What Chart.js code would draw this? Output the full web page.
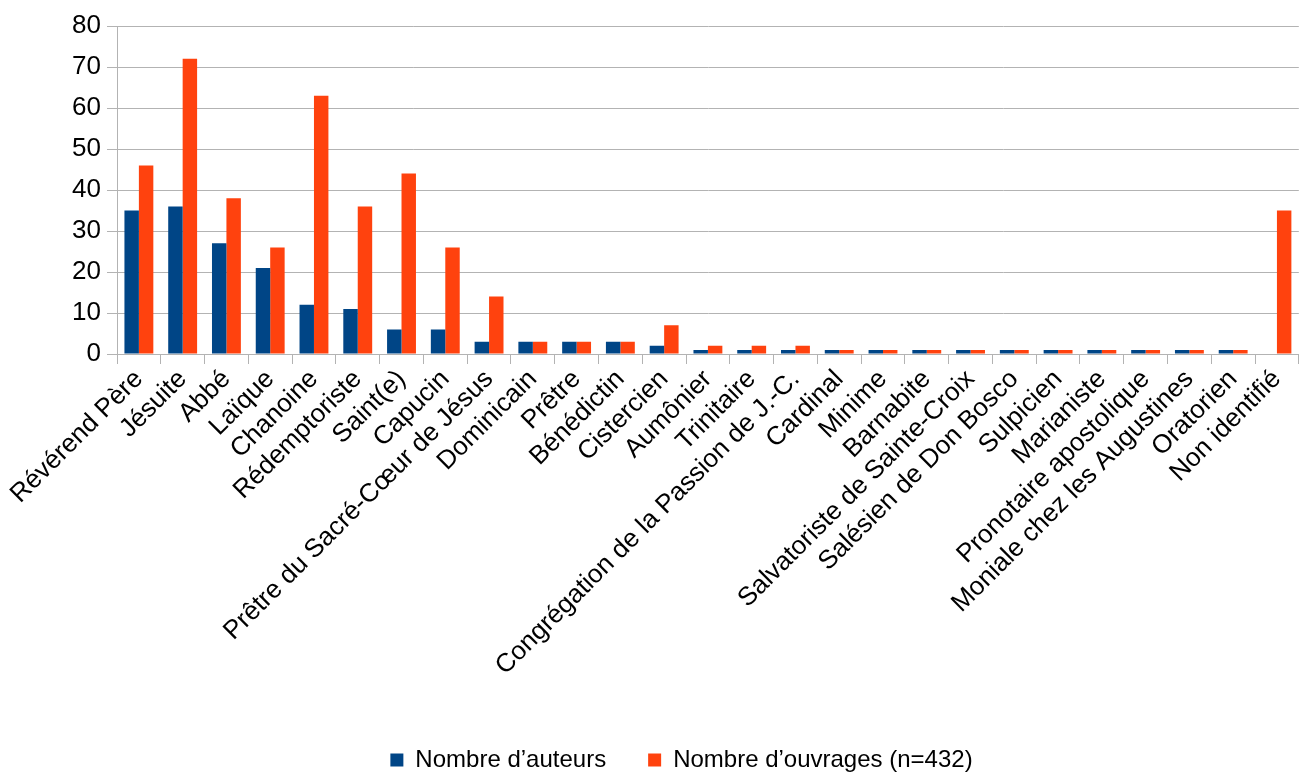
<!DOCTYPE html>
<html>
<head>
<meta charset="utf-8">
<script src="https://cdn.jsdelivr.net/npm/chart.js@4"></script>
<style>
  html, body { margin: 0; padding: 0; background: #fff; }
  #wrap { width: 1299px; height: 772px; }
</style>
</head>
<body>
<div id="wrap"><canvas id="chart" width="1299" height="772"></canvas></div>
<script>
// Categories (as printed under the x axis)
const categories = [
    "Révérend Père", "Jésuite", "Abbé", "Laïque", "Chanoine", "Rédemptoriste",
    "Saint(e)", "Capucin", "Prêtre du Sacré-Cœur de Jésus", "Dominicain", "Prêtre",
    "Bénédictin", "Cistercien", "Aumônier", "Trinitaire",
    "Congrégation de la Passion de J.-C.", "Cardinal", "Minime", "Barnabite",
    "Salvatoriste de Sainte-Croix", "Salésien de Don Bosco", "Sulpicien", "Marianiste",
    "Pronotaire apostolique", "Moniale chez les Augustines", "Oratorien", "Non identifié"
];

// Series values
const auteurs = [35, 36, 27, 21, 12, 11, 6, 6, 3, 3, 3, 3, 2, 1, 1, 1, 1, 1, 1, 1, 1, 1, 1, 1, 1, 1, 0];
const ouvrages = [46, 72, 38, 26, 63, 36, 44, 26, 14, 3, 3, 3, 7, 2, 2, 2, 1, 1, 1, 1, 1, 1, 1, 1, 1, 1, 35];

const yTicks = [0, 10, 20, 30, 40, 50, 60, 70, 80];

const FONT = "'Liberation Sans', Arial, sans-serif";
const GRID = "#b3b3b3";

new Chart(document.getElementById("chart"), {
    type: "bar",
    data: {
        labels: categories,
        datasets: [
            {
                label: "Nombre d’auteurs",
                data: auteurs,
                backgroundColor: "#004586",
                barPercentage: 1,
                categoryPercentage: 0.66
            },
            {
                label: "Nombre d’ouvrages (n=432)",
                data: ouvrages,
                backgroundColor: "#ff420e",
                barPercentage: 1,
                categoryPercentage: 0.66
            }
        ]
    },
    options: {
        responsive: false,
        animation: false,
        layout: { padding: { top: 26, right: 0, left: 64, bottom: -10 } },
        plugins: {
            legend: {
                position: "bottom",
                labels: {
                    color: "#000",
                    font: { family: FONT, size: 24 },
                    boxWidth: 13,
                    boxHeight: 13,
                    padding: 6,
                    // wider gap between the two entries, like the original
                    generateLabels: chart => {
                        const items = Chart.defaults.plugins.legend.labels.generateLabels(chart);
                        items[0].text += "\u2002\u2002\u2002";
                        return items;
                    }
                }
            },
            tooltip: { enabled: false }
        },
        scales: {
            x: {
                grid: {
                    offset: true,
                    drawOnChartArea: false,
                    color: GRID,
                    tickLength: 10
                },
                border: { color: GRID },
                ticks: {
                    color: "#000",
                    font: { family: FONT, size: 26 },
                    autoSkip: false,
                    minRotation: 45,
                    maxRotation: 45,
                    padding: 0
                },
                afterFit: axis => {
                    axis.height = 388;
                    axis.paddingLeft = 0;
                }
            },
            y: {
                min: 0,
                max: 80,
                afterBuildTicks: axis => { axis.ticks = yTicks.map(v => ({ value: v })); },
                grid: { color: GRID, tickLength: 10 },
                border: { color: GRID },
                ticks: {
                    color: "#000",
                    font: { family: FONT, size: 26 },
                    padding: 6
                },
                afterFit: axis => { axis.width = 53; }
            }
        }
    }
});
</script>
</body>
</html>
